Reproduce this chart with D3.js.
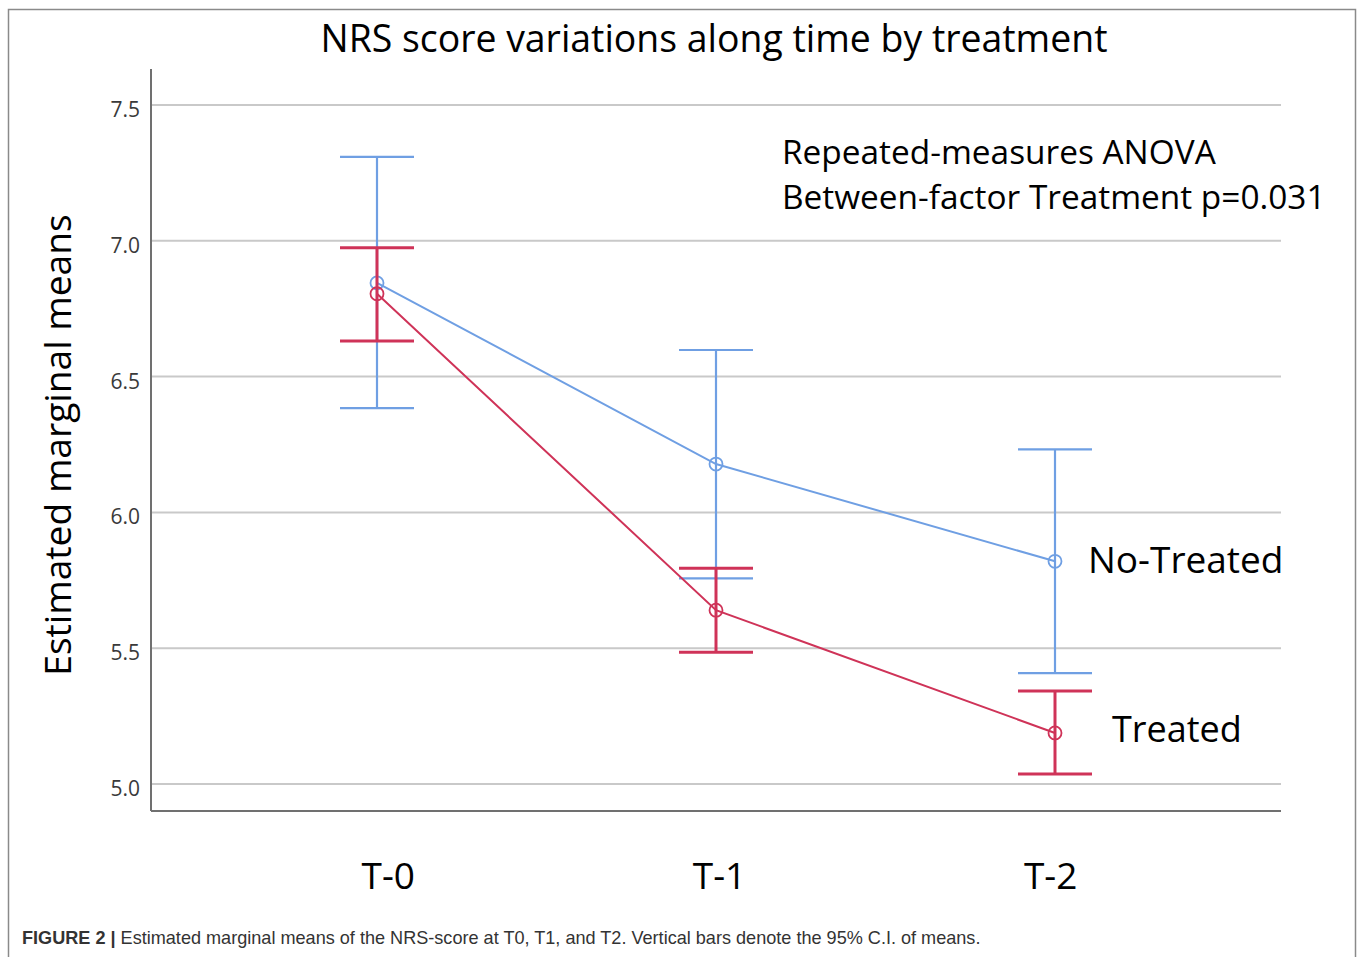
<!DOCTYPE html>
<html><head><meta charset="utf-8">
<script src="https://cdn.jsdelivr.net/npm/d3@7"></script>
<style>body{margin:0;background:#fff}svg{display:block}</style>
</head><body>
<svg id="c" width="1360" height="957"></svg>
<script>
const categories = ["T-0", "T-1", "T-2"];
const yTicks = [5.0, 5.5, 6.0, 6.5, 7.0, 7.5];
const noTreatedMean = [6.845, 6.178, 5.82];
const noTreatedLow  = [6.384, 5.757, 5.408];
const noTreatedHigh = [7.309, 6.598, 6.232];
const treatedMean = [6.805, 5.64, 5.188];
const treatedLow  = [6.631, 5.485, 5.037];
const treatedHigh = [6.974, 5.794, 5.342];

(function(){
const series = [
  {name: "No-Treated", mean: noTreatedMean, lo: noTreatedLow, hi: noTreatedHigh, color: "#6f9fe3", lw: 2, ew: 2.2},
  {name: "Treated", mean: treatedMean, lo: treatedLow, hi: treatedHigh, color: "#cf3358", lw: 2, ew: 3}
];

const svg = d3.select("#c");
const pL = 151, pR = 1281, pT = 69, pB = 811;

svg.append("rect").attr("x", 8.5).attr("y", 9.5).attr("width", 1347).attr("height", 960)
  .attr("fill", "none").attr("stroke", "#8a8a8a").attr("stroke-width", 1.5);

const x = d3.scalePoint().domain(categories).range([pL, pR]).padding(2/3);
const xLab = d3.scalePoint().domain(categories).range([167, 1271]).padding(2/3);
const y = d3.scaleLinear().domain([4.9006, 7.6325]).range([pB, pT]);

svg.append("g").selectAll("line").data(yTicks).join("line")
  .attr("x1", pL).attr("x2", pR).attr("y1", d => y(d)).attr("y2", d => y(d))
  .attr("stroke", "#c9c9c9").attr("stroke-width", 2);

const ya = svg.append("g").attr("transform", `translate(${pL},0)`)
  .call(d3.axisLeft(y).tickValues(yTicks).tickFormat(d3.format(".1f")).tickSize(0).tickPadding(11));
ya.select(".domain").remove();
ya.selectAll("text").attr("font-family", "'Open Sans', sans-serif").attr("font-size", 21)
  .attr("fill", "#3a3a3a").attr("dy", "0.55em");
svg.append("line").attr("x1", pL).attr("x2", pL).attr("y1", pT).attr("y2", pB)
  .attr("stroke", "#707070").attr("stroke-width", 2);

const xa = svg.append("g").attr("transform", `translate(0,${pB})`)
  .call(d3.axisBottom(xLab).tickSize(0).tickPadding(52));
xa.select(".domain").remove();
xa.selectAll("text").attr("font-family", "'Open Sans', sans-serif").attr("font-size", 37).attr("fill", "#000");
svg.append("line").attr("x1", pL).attr("x2", pR).attr("y1", pB).attr("y2", pB)
  .attr("stroke", "#707070").attr("stroke-width", 2);

const capW = 37;
series.forEach(s => {
  const g = svg.append("g");
  const idx = d3.range(categories.length);
  g.selectAll(".v").data(idx).join("line")
    .attr("x1", i => x(categories[i])).attr("x2", i => x(categories[i]))
    .attr("y1", i => y(s.lo[i])).attr("y2", i => y(s.hi[i]))
    .attr("stroke", s.color).attr("stroke-width", s.ew);
  g.selectAll(".ch").data(idx).join("line")
    .attr("x1", i => x(categories[i]) - capW).attr("x2", i => x(categories[i]) + capW)
    .attr("y1", i => y(s.hi[i])).attr("y2", i => y(s.hi[i]))
    .attr("stroke", s.color).attr("stroke-width", s.ew);
  g.selectAll(".cl").data(idx).join("line")
    .attr("x1", i => x(categories[i]) - capW).attr("x2", i => x(categories[i]) + capW)
    .attr("y1", i => y(s.lo[i])).attr("y2", i => y(s.lo[i]))
    .attr("stroke", s.color).attr("stroke-width", s.ew);
  g.append("path").datum(idx)
    .attr("d", d3.line().x(i => x(categories[i])).y(i => y(s.mean[i])))
    .attr("fill", "none").attr("stroke", s.color).attr("stroke-width", s.lw);
  g.selectAll("circle").data(idx).join("circle")
    .attr("cx", i => x(categories[i])).attr("cy", i => y(s.mean[i])).attr("r", 6.5)
    .attr("fill", "none").attr("stroke", s.color).attr("stroke-width", 1.8);
});

svg.append("text").attr("x", 1088).attr("y", y(noTreatedMean[2]) + 12)
  .attr("font-family", "'Open Sans', sans-serif").attr("font-size", 37).text("No-Treated");
svg.append("text").attr("x", 1112).attr("y", y(treatedMean[2]) + 9)
  .attr("font-family", "'Open Sans', sans-serif").attr("font-size", 36).text("Treated");

svg.append("text").attr("x", 714).attr("y", 52).attr("text-anchor", "middle")
  .attr("font-family", "'Open Sans', sans-serif").attr("font-size", 37.4).text("NRS score variations along time by treatment");

svg.append("text").attr("x", 782).attr("y", 164)
  .attr("font-family", "'Open Sans', sans-serif").attr("font-size", 33.4).text("Repeated-measures ANOVA");
svg.append("text").attr("x", 782).attr("y", 209)
  .attr("font-family", "'Open Sans', sans-serif").attr("font-size", 33.4).text("Between-factor Treatment p=0.031");

svg.append("text").attr("transform", "translate(71,445) rotate(-90)").attr("text-anchor", "middle")
  .attr("font-family", "'Open Sans', sans-serif").attr("font-size", 37.2).text("Estimated marginal means");

const cap = svg.append("text").attr("x", 22).attr("y", 944)
  .attr("font-family", "'Liberation Sans', Arial, sans-serif").attr("font-size", 18.1).attr("fill", "#333");
cap.append("tspan").attr("font-weight", "bold").text("FIGURE 2 | ");
cap.append("tspan").text("Estimated marginal means of the NRS-score at T0, T1, and T2. Vertical bars denote the 95% C.I. of means.");
})();
</script>
</body></html>
